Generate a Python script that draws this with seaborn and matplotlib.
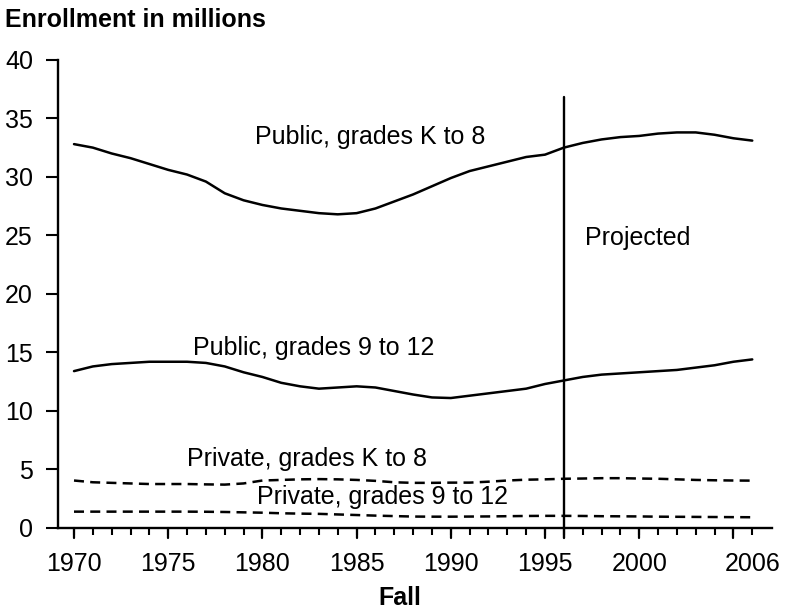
import numpy as np
import pandas as pd
import matplotlib
matplotlib.use('Agg')
import matplotlib.pyplot as plt
import seaborn as sns

# data (fall enrollment, millions)
years = list(range(1970, 2007))
public_k8 = [32.8, 32.5, 32.0, 31.6, 31.1, 30.6, 30.2, 29.6, 28.6, 28.0,
             27.6, 27.3, 27.1, 26.9, 26.8, 26.9, 27.3, 27.9, 28.5, 29.2,
             29.9, 30.5, 30.9, 31.3, 31.7, 31.9, 32.5, 32.9, 33.2, 33.4,
             33.5, 33.7, 33.8, 33.8, 33.6, 33.3, 33.1]
public_912 = [13.4, 13.8, 14.0, 14.1, 14.2, 14.2, 14.2, 14.1, 13.8, 13.3,
              12.9, 12.4, 12.1, 11.9, 12.0, 12.1, 12.0, 11.7, 11.4, 11.15,
              11.1, 11.3, 11.5, 11.7, 11.9, 12.3, 12.6, 12.9, 13.1, 13.2,
              13.3, 13.4, 13.5, 13.7, 13.9, 14.2, 14.4]
private_k8 = [4.05, 3.9, 3.85, 3.8, 3.75, 3.75, 3.75, 3.72, 3.7, 3.8,
              4.05, 4.1, 4.15, 4.17, 4.15, 4.1, 4.02, 3.9, 3.85, 3.85,
              3.87, 3.87, 3.95, 4.05, 4.12, 4.15, 4.2, 4.22, 4.25, 4.25,
              4.22, 4.2, 4.15, 4.1, 4.07, 4.05, 4.04]
private_912 = [1.39, 1.39, 1.39, 1.39, 1.39, 1.39, 1.39, 1.38, 1.36, 1.33,
               1.3, 1.25, 1.22, 1.2, 1.15, 1.1, 1.05, 1.01, 0.97, 0.96,
               0.96, 0.97, 0.98, 1.0, 1.02, 1.03, 1.03, 1.02, 1.0, 0.99,
               0.98, 0.96, 0.95, 0.94, 0.93, 0.92, 0.91]

series_names = ['Public, grades K to 8', 'Public, grades 9 to 12',
                'Private, grades K to 8', 'Private, grades 9 to 12']
label_x = [1979.6, 1976.3, 1976.0, 1979.7]
label_y = [33.4, 15.4, 5.9, 2.6]

projection_year = 1996
projection_top = 36.8

xtick_labeled = [1970, 1975, 1980, 1985, 1990, 1995, 2000, 2006]
xtick_major = [1970, 1975, 1980, 1985, 1990, 1995, 2000, 2005]
yticks = [0, 5, 10, 15, 20, 25, 30, 35, 40]

df = pd.DataFrame({
    'year': years * 4,
    'enrollment': public_k8 + public_912 + private_k8 + private_912,
    'series': sum([[n] * len(years) for n in series_names], []),
})

sns.set_style('ticks')
plt.rcParams['font.family'] = ['Liberation Sans', 'DejaVu Sans']
plt.rcParams['text.color'] = 'black'
plt.rcParams['axes.labelcolor'] = 'black'

fig = plt.figure(figsize=(7.89, 6.11), dpi=100)
ax = fig.add_axes([0.0735, 0.136, 0.905, 0.766])

dash_map = {series_names[0]: '', series_names[1]: '',
            series_names[2]: (4, 2.5), series_names[3]: (4, 2.5)}
sns.lineplot(data=df, x='year', y='enrollment', style='series',
             dashes=dash_map, color='black', linewidth=1.8,
             legend=False, ax=ax)

# projection divider
ax.plot([projection_year, projection_year], [-0.9, projection_top],
        color='black', linewidth=1.7, clip_on=False)

for name, lx, ly in zip(series_names, label_x, label_y):
    ax.text(lx, ly, name, fontsize=18, va='center', ha='left', color='black')
ax.text(1997.1, 24.8, 'Projected', fontsize=18, va='center', ha='left',
        color='black')

ax.set_xlim(1969.15, 2007.05)
ax.set_ylim(0, 40)
ax.set_yticks(yticks)
ax.set_xticks(xtick_labeled, labels=[str(v) for v in xtick_labeled])
ax.set_xticks(years, minor=True)
# long ticks at the five-year marks
for yr in xtick_major:
    ax.plot([yr, yr], [0, -0.85], color='black', linewidth=1.6, clip_on=False)

ax.tick_params(axis='y', direction='out', length=9, width=1.5, pad=9,
               labelsize=18, colors='black')
ax.tick_params(axis='x', which='major', direction='out', length=5, width=1.5,
               pad=12, labelsize=18, colors='black')
ax.tick_params(axis='x', which='minor', direction='out', length=5, width=1.5,
               colors='black')

for s in ['top', 'right']:
    ax.spines[s].set_visible(False)
for s in ['left', 'bottom']:
    ax.spines[s].set_linewidth(1.7)
    ax.spines[s].set_color('black')

ax.set_xlabel('Fall', fontsize=18, fontweight='bold', color='black')
ax.xaxis.set_label_coords(0.479, -0.125)
ax.set_ylabel('')

fig.text(5 / 789, 1 - 20 / 611, 'Enrollment in millions', fontsize=18,
         fontweight='bold', va='center', ha='left', color='black')

fig.savefig('out.png', dpi=100)
